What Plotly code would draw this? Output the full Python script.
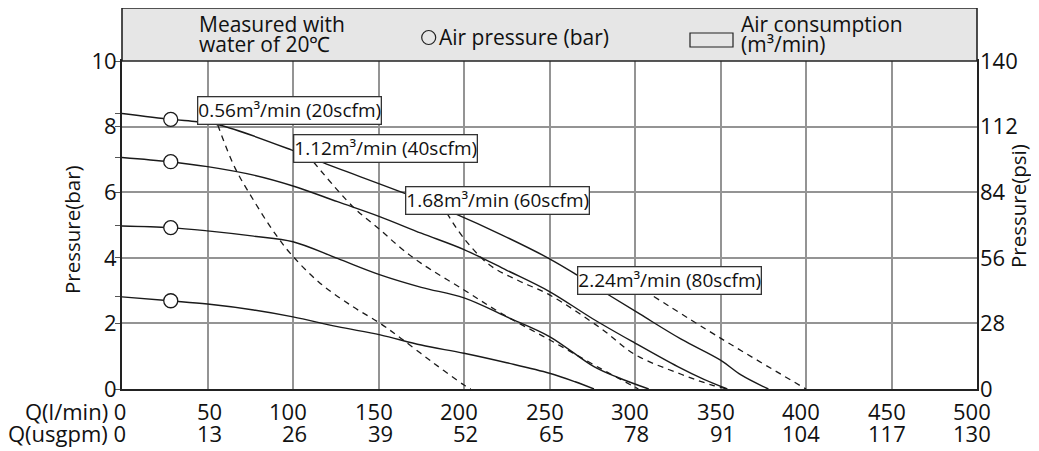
import plotly.graph_objects as go

# ---------------- data ----------------
q_lpm_ticks = [0, 50, 100, 150, 200, 250, 300, 350, 400, 450, 500]
q_usgpm_ticks = [0, 13, 26, 39, 52, 65, 78, 91, 104, 117, 130]
bar_ticks = [0, 2, 4, 6, 8, 10]
psi_ticks = [0, 28, 56, 84, 112, 140]

# solid curves: pump outlet pressure (bar) vs flow (l/min) for each air pressure
q_c1 = [0, 29, 44, 57, 99, 116, 165, 194, 222, 250, 266, 283, 303, 327, 350, 362, 378]
p_c1 = [8.40, 8.22, 8.15, 8.05, 7.29, 6.93, 5.97, 5.36, 4.70, 3.97, 3.48, 2.92, 2.28, 1.52, 0.88, 0.43, 0]

q_c2 = [0, 28, 50, 77, 100, 126, 151, 175, 200, 225, 250, 275, 300, 325, 340, 354]
p_c2 = [7.06, 6.93, 6.78, 6.52, 6.19, 5.71, 5.25, 4.75, 4.25, 3.62, 2.97, 2.15, 1.40, 0.68, 0.30, 0]

q_c3 = [0, 28, 50, 77, 100, 126, 151, 175, 200, 225, 250, 276, 290, 308]
p_c3 = [4.97, 4.92, 4.82, 4.66, 4.49, 3.98, 3.48, 3.10, 2.78, 2.20, 1.60, 0.68, 0.35, 0]

q_c4 = [0, 28, 50, 77, 100, 126, 151, 175, 200, 225, 250, 265, 276]
p_c4 = [2.81, 2.69, 2.59, 2.41, 2.20, 1.90, 1.65, 1.34, 1.09, 0.80, 0.48, 0.22, 0]

# dashed curves: constant air consumption
q_d1 = [56, 66, 77, 88, 99, 116, 135, 151, 163, 182, 200, 204]
p_d1 = [8.05, 6.75, 5.75, 4.85, 4.10, 3.22, 2.51, 2.00, 1.55, 0.80, 0.12, 0]

q_d2 = [112, 135, 151, 163, 175, 200, 222, 250, 280, 302]
p_d2 = [6.92, 5.56, 4.85, 4.30, 3.83, 3.02, 2.30, 1.50, 0.62, 0]

q_d3 = [190, 200, 215, 232, 250, 280, 300, 327, 345, 354]
p_d3 = [5.36, 4.59, 3.78, 3.30, 2.87, 1.85, 1.05, 0.45, 0.12, 0]

q_d4 = [311, 350, 400]
p_d4 = [2.82, 1.55, 0]

# air pressure markers
circle_q = [28.5, 28.5, 28.5, 28.5]
circle_p = [8.22, 6.93, 4.92, 2.69]

# air consumption labels
air_labels = ["0.56m³/min (20scfm)", "1.12m³/min (40scfm)",
              "1.68m³/min (60scfm)", "2.24m³/min (80scfm)"]
label_q = [43.7, 100, 165.7, 266]
label_p = [8.48, 7.33, 5.74, 3.32]

# ---------------- layout geometry ----------------
OFF = 8                      # page body margin
W, H = 1039 - OFF, 451 - OFF
L, R, T, B = 122 - OFF, 977 - OFF, 61 - OFF, 389 - OFF
FONT = "Open Sans"
INK = "#111111"


def px_x(rx):
    """reference-image x pixel -> paper coordinate"""
    return (rx - OFF - L) / (R - L)


def px_y(ry):
    """reference-image y pixel -> paper coordinate"""
    return (B - (ry - OFF)) / (B - T)


fig = go.Figure()

solid = dict(color="#1a1a1a", width=1.4)
dashed = dict(color="#1a1a1a", width=1.3, dash="6px,5px")

for q, p in [(q_c1, p_c1), (q_c2, p_c2), (q_c3, p_c3), (q_c4, p_c4)]:
    fig.add_trace(go.Scatter(x=q, y=p, mode="lines", line=solid,
                             line_shape="spline", hoverinfo="skip", showlegend=False))
for q, p in [(q_d1, p_d1), (q_d2, p_d2), (q_d3, p_d3), (q_d4, p_d4)]:
    fig.add_trace(go.Scatter(x=q, y=p, mode="lines", line=dashed,
                             line_shape="spline", hoverinfo="skip", showlegend=False))

fig.add_trace(go.Scatter(x=circle_q, y=circle_p, mode="markers",
                         marker=dict(symbol="circle", size=14, color="white",
                                     line=dict(color="#1a1a1a", width=1.3)),
                         hoverinfo="skip", showlegend=False))

# empty trace to register the psi axis
fig.add_trace(go.Scatter(x=[], y=[], yaxis="y2", showlegend=False, hoverinfo="skip"))

annotations = []

# consumption label boxes
for txt, q, p in zip(air_labels, label_q, label_p):
    annotations.append(dict(x=q, y=p, xref="x", yref="y", text=txt, showarrow=False,
                            xanchor="left", yanchor="middle",
                            font=dict(family=FONT, size=19, color=INK),
                            bgcolor="white", bordercolor="#333333", borderwidth=1.3,
                            borderpad=0))

# two-row flow tick labels
for i, (ql, qg) in enumerate(zip(q_lpm_ticks, q_usgpm_ticks)):
    t1 = f"Q(l/min) {ql}" if i == 0 else str(ql)
    t2 = f"Q(usgpm) {qg}" if i == 0 else str(qg)
    xs = 6 if i == 0 else 16
    for txt, ys in [(t1, -22), (t2, -44)]:
        annotations.append(dict(x=ql, y=0, xref="x", yref="paper", text=txt,
                                showarrow=False, xanchor="right", yanchor="middle",
                                xshift=xs, yshift=ys,
                                font=dict(family=FONT, size=22, color=INK)))

# axis titles
annotations.append(dict(x=px_x(72), y=px_y(230), xref="paper", yref="paper",
                        text="Pressure(bar)", textangle=-90, showarrow=False,
                        xanchor="center", yanchor="middle",
                        font=dict(family=FONT, size=20.5, color=INK)))
annotations.append(dict(x=px_x(1018), y=px_y(206), xref="paper", yref="paper",
                        text="Pressure(psi)", textangle=-90, showarrow=False,
                        xanchor="center", yanchor="middle",
                        font=dict(family=FONT, size=20.5, color=INK)))

# header texts
hdr_font = dict(family=FONT, size=21, color=INK)
for txt, x, y in [("Measured with", 197, 24), ("water of 20℃", 197, 44),
                  ("Air pressure (bar)", 437, 37),
                  ("Air consumption", 739, 24), ("(m³/min)", 739, 44)]:
    annotations.append(dict(x=px_x(x), y=px_y(y), xref="paper", yref="paper",
                            text=txt, showarrow=False, xanchor="left",
                            yanchor="middle", font=hdr_font))

shapes = [
    dict(type="rect", xref="paper", yref="paper", x0=0, x1=1, y0=1, y1=px_y(8),
         fillcolor="#e6e6e6", line=dict(color="#222222", width=1.6), layer="above"),
    dict(type="circle", xref="paper", yref="paper", xsizemode="pixel", ysizemode="pixel",
         xanchor=px_x(428.7), yanchor=px_y(37.5), x0=-7, x1=7, y0=-7, y1=7,
         line=dict(color="#222222", width=1.2), fillcolor="rgba(0,0,0,0)"),
    dict(type="rect", xref="paper", yref="paper", xsizemode="pixel", ysizemode="pixel",
         xanchor=px_x(711.5), yanchor=px_y(40), x0=-21.5, x1=21.5, y0=-7, y1=7,
         line=dict(color="#222222", width=1.2), fillcolor="rgba(0,0,0,0)"),
]

grid = "#949494"
fig.update_layout(
    width=W, height=H,
    margin=dict(l=L, r=W - R, t=T, b=H - B, pad=0, autoexpand=False),
    paper_bgcolor="white", plot_bgcolor="white",
    font=dict(family=FONT, color=INK),
    showlegend=False,
    xaxis=dict(range=[0, 500], tickvals=q_lpm_ticks, showticklabels=False,
               showgrid=True, gridcolor=grid, gridwidth=1.6, zeroline=False,
               showline=True, linecolor="#222222", linewidth=1.8, mirror=True,
               ticks="", automargin=False),
    yaxis=dict(range=[0, 10], tickvals=bar_ticks, showgrid=True, gridcolor=grid,
               gridwidth=1.6, zeroline=False, showline=True, linecolor="#222222",
               linewidth=1.8, mirror=True, ticks="outside", ticklen=5,
               tickcolor="#555555", tickwidth=1.2, ticklabelstandoff=-6,
               automargin=False,
               tickfont=dict(family=FONT, size=22, color=INK),
               minor=dict(tickvals=[p_c1[0], p_c2[0], p_c3[0], p_c4[0]],
                          ticks="outside", ticklen=5, tickcolor="#555555",
                          tickwidth=1.2, showgrid=False)),
    yaxis2=dict(range=[0, 140], tickvals=psi_ticks, overlaying="y", side="right",
                showgrid=False, zeroline=False, showline=False, ticks="",
                ticklabelstandoff=2, automargin=False,
                tickfont=dict(family=FONT, size=22, color=INK)),
    annotations=annotations,
    shapes=shapes,
)

fig.write_html("out.html")
